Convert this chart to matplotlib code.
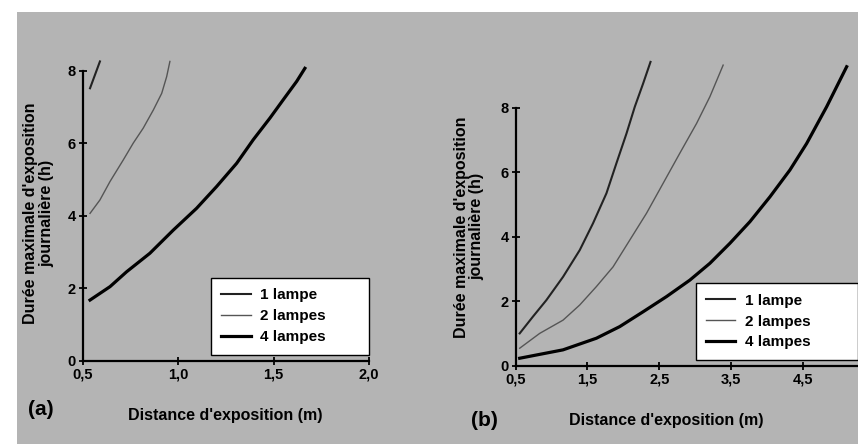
import matplotlib
matplotlib.use("Agg")
import matplotlib.pyplot as plt
from matplotlib.patches import Rectangle

# panel (a) : distance (m) -> durée (h)
a_x_1 = [0.537, 0.563, 0.589]
a_y_1 = [7.52, 7.89, 8.26]
a_x_2 = [0.537, 0.589, 0.642, 0.711, 0.764, 0.816, 0.869, 0.913, 0.939, 0.956]
a_y_2 = [4.07, 4.44, 4.95, 5.54, 6.01, 6.42, 6.92, 7.38, 7.84, 8.26]
a_x_4 = [0.537, 0.642, 0.729, 0.851, 0.974, 1.096, 1.201, 1.306, 1.393, 1.481, 1.550, 1.621, 1.664]
a_y_4 = [1.68, 2.05, 2.46, 2.97, 3.61, 4.21, 4.81, 5.45, 6.10, 6.70, 7.20, 7.71, 8.07]

# panel (b)
b_x_1 = [0.556, 0.741, 0.928, 1.160, 1.393, 1.578, 1.765, 1.904, 2.044, 2.160, 2.276, 2.379]
b_y_1 = [1.01, 1.53, 2.04, 2.76, 3.59, 4.42, 5.35, 6.28, 7.20, 8.03, 8.75, 9.42]
b_x_2 = [0.556, 0.835, 1.160, 1.393, 1.625, 1.857, 2.090, 2.323, 2.555, 2.787, 3.020, 3.206, 3.391]
b_y_2 = [0.55, 1.01, 1.42, 1.89, 2.46, 3.07, 3.90, 4.73, 5.66, 6.59, 7.51, 8.34, 9.32]
b_x_4 = [0.556, 1.160, 1.625, 1.950, 2.276, 2.602, 2.927, 3.206, 3.485, 3.764, 4.043, 4.321, 4.554, 4.833, 5.112]
b_y_4 = [0.24, 0.50, 0.86, 1.22, 1.68, 2.15, 2.66, 3.18, 3.80, 4.47, 5.24, 6.07, 6.89, 8.03, 9.27]

labels = ["1 lampe", "2 lampes", "4 lampes"]
y_ticks = [0, 2, 4, 6, 8]
a_x_ticks = [0.5, 1.0, 1.5, 2.0]
a_x_ticklabels = ["0,5", "1,0", "1,5", "2,0"]
b_x_ticks = [0.5, 1.5, 2.5, 3.5, 4.5]
b_x_ticklabels = ["0,5", "1,5", "2,5", "3,5", "4,5"]

styles = [
    dict(color="#222222", lw=1.5),
    dict(color="#555555", lw=1.0),
    dict(color="black", lw=2.3),
]

plt.rcParams["font.family"] = ["Liberation Sans", "DejaVu Sans"]
plt.rcParams["font.weight"] = "bold"

fig = plt.figure(figsize=(8.58, 4.44), dpi=100)
fig.patch.set_facecolor("white")
fig.patches.append(Rectangle((17 / 858, 0), 1, 1 - 12 / 444, transform=fig.transFigure,
                             facecolor="#b4b4b4", edgecolor="none", zorder=-10))

ax_a = fig.add_axes([0.0967, 0.187, 0.3333, 0.682])
ax_b = fig.add_axes([0.601, 0.1757, 0.399, 0.698])


def style_axis(ax, xlim, ylim, xticks, xticklabels, legend_bbox):
    ax.set_facecolor("none")
    ax.set_xlim(*xlim)
    ax.set_ylim(*ylim)
    for s in ["top", "right"]:
        ax.spines[s].set_visible(False)
    for s in ["left", "bottom"]:
        ax.spines[s].set_linewidth(1.6)
    ax.spines["left"].set_bounds(0, 8)
    ax.set_yticks(y_ticks)
    ax.set_yticklabels([str(v) for v in y_ticks])
    ax.set_xticks(xticks)
    ax.set_xticklabels(xticklabels)
    ax.tick_params(direction="inout", length=6, width=1.3, labelsize=10.5, pad=2)
    leg = ax.legend(loc="lower right", bbox_to_anchor=legend_bbox, fontsize=11,
                    frameon=True, fancybox=False, edgecolor="black", framealpha=1,
                    handlelength=1.9, handletextpad=0.6, borderaxespad=0, borderpad=0.7,
                    labelspacing=0.45, mode="expand")
    leg.get_frame().set_linewidth(1.0)


for x, y, lab, st in zip([a_x_1, a_x_2, a_x_4], [a_y_1, a_y_2, a_y_4], labels, styles):
    ax_a.plot(x, y, label=lab, clip_on=False, solid_joinstyle="round", **st)
for x, y, lab, st in zip([b_x_1, b_x_2, b_x_4], [b_y_1, b_y_2, b_y_4], labels, styles):
    ax_b.plot(x, y, label=lab, clip_on=False, solid_joinstyle="round", **st)

style_axis(ax_a, (0.5, 2.0), (0, 8.35), a_x_ticks, a_x_ticklabels, (0.447, 0.02, 0.553, 0.29))
style_axis(ax_b, (0.5, 5.27), (0, 9.6), b_x_ticks, b_x_ticklabels, (0.526, 0.019, 0.474, 0.29))

ylab = "Durée maximale d'exposition\njournalière (h)"
fig.text(0.045, 0.52, ylab, rotation=90, ha="center", va="center", fontsize=11.5, linespacing=1.05)
fig.text(0.547, 0.489, ylab, rotation=90, ha="center", va="center", fontsize=11.5, linespacing=1.05)
fig.text(0.262, 0.065, "Distance d'exposition (m)", ha="center", va="center", fontsize=11.5)
fig.text(0.777, 0.052, "Distance d'exposition (m)", ha="center", va="center", fontsize=11.5)
fig.text(0.048, 0.077, "(a)", ha="center", va="center", fontsize=15)
fig.text(0.565, 0.052, "(b)", ha="center", va="center", fontsize=15)

fig.savefig("out.png", dpi=100)
